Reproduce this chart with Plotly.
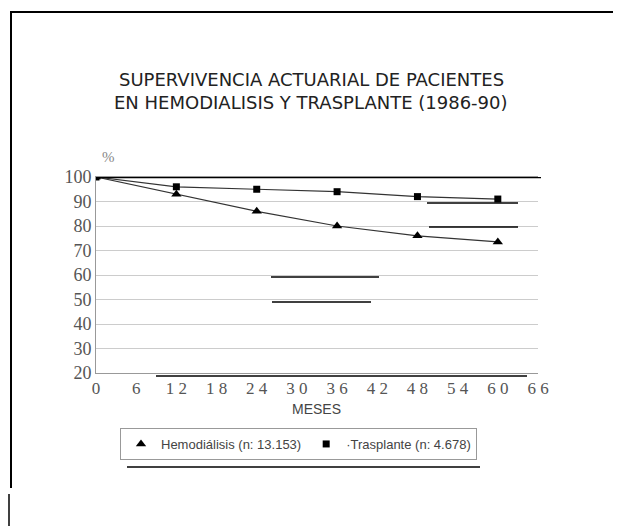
import plotly.graph_objects as go

# ---- data ----
meses = [0, 12, 24, 36, 48, 60]
hemodialisis = [100, 93, 86, 80, 76, 73.5]
trasplante = [100, 96, 95, 94, 92, 91]
x_tickvals = [0, 6, 12, 18, 24, 30, 36, 42, 48, 54, 60, 66]
x_ticktext = ["0", "6", "1 2", "1 8", "2 4", "3 0", "3 6", "4 2", "4 8", "5 4", "6 0", "6 6"]
y_tickvals = [20, 30, 40, 50, 60, 70, 80, 90, 100]
series_names = ["Hemodiálisis (n: 13.153)", "·Trasplante (n: 4.678)"]

O = 8  # page body margin offset
W, H = 621 - O, 526 - O
L, R, T, B = 96 - O, 538 - O, 177 - O, 373 - O


def px(x):
    return (x - O - L) / (R - L)


def py(y):
    return (B - (y - O)) / (B - T)


fig = go.Figure()

# lines
fig.add_trace(go.Scatter(x=meses, y=hemodialisis, mode="lines",
                         line=dict(color="#333", width=1.2), showlegend=False, hoverinfo="skip"))
fig.add_trace(go.Scatter(x=meses, y=trasplante, mode="lines",
                         line=dict(color="#333", width=1.2), showlegend=False, hoverinfo="skip"))
# markers (legend entries)
fig.add_trace(go.Scatter(x=meses, y=hemodialisis, mode="markers", name=series_names[0],
                         marker=dict(symbol="triangle-up", size=9, color="black")))
fig.add_trace(go.Scatter(x=meses, y=trasplante, mode="markers", name=series_names[1],
                         marker=dict(symbol="square", size=7, color="black")))

shapes = []
# thick line at 100
shapes.append(dict(type="line", xref="paper", yref="y", x0=0, x1=px(541), y0=100, y1=100,
                   line=dict(color="black", width=2.5)))
# page frame
shapes.append(dict(type="line", xref="paper", yref="paper", x0=px(10), x1=px(621), y0=py(12), y1=py(12),
                   line=dict(color="black", width=2)))
shapes.append(dict(type="line", xref="paper", yref="paper", x0=px(11), x1=px(11), y0=py(12), y1=py(488),
                   line=dict(color="black", width=2)))
shapes.append(dict(type="line", xref="paper", yref="paper", x0=px(9), x1=px(9), y0=py(494), y1=py(526),
                   line=dict(color="black", width=1.5)))
# scan artifact lines
for (x0, x1, yy) in [(427, 518, 203), (429, 518, 227), (271, 379, 277), (272, 371, 302),
                     (156, 527, 376), (191, 343, 433), (127, 480, 467)]:
    shapes.append(dict(type="line", xref="paper", yref="paper", x0=px(x0), x1=px(x1), y0=py(yy), y1=py(yy),
                       line=dict(color="black", width=1.3)))

annotations = [
    dict(text="SUPERVIVENCIA ACTUARIAL DE PACIENTES", xref="paper", yref="paper",
         x=px(311), y=py(80), xanchor="center", yanchor="middle", showarrow=False,
         font=dict(family="DejaVu Sans", size=18, color="#222")),
    dict(text="EN HEMODIALISIS Y TRASPLANTE (1986-90)", xref="paper", yref="paper",
         x=px(311), y=py(103), xanchor="center", yanchor="middle", showarrow=False,
         font=dict(family="DejaVu Sans", size=18, color="#222")),
    dict(text="%", xref="paper", yref="paper", x=px(108), y=py(157), xanchor="center", yanchor="middle",
         showarrow=False, font=dict(family="Liberation Serif", size=15, color="#888")),
    dict(text="MESES", xref="paper", yref="paper", x=px(316), y=py(409), xanchor="center", yanchor="middle",
         showarrow=False, font=dict(family="Liberation Sans", size=14, color="#444")),
]

fig.update_layout(
    width=W, height=H,
    margin=dict(l=L, r=W - R, t=T, b=H - B),
    paper_bgcolor="white", plot_bgcolor="white",
    shapes=shapes, annotations=annotations,
    showlegend=True,
    legend=dict(orientation="h", x=px(120), y=py(428), xanchor="left", yanchor="top",
                bordercolor="#999", borderwidth=1, bgcolor="white",
                font=dict(family="Liberation Sans", size=13, color="#444"),
                itemwidth=30, tracegroupgap=0),
    xaxis=dict(range=[0, 66], tickvals=x_tickvals, ticktext=x_ticktext,
               showgrid=False, zeroline=False, showline=True, linecolor="#999", linewidth=1,
               mirror=True, ticks="", ticklen=0,
               tickfont=dict(family="Liberation Serif", size=17, color="#555")),
    yaxis=dict(range=[20, 100], tickvals=y_tickvals, showgrid=True, gridcolor="#ccc", gridwidth=1,
               zeroline=False, showline=True, linecolor="#999", linewidth=1, ticks="",
               tickfont=dict(family="Liberation Serif", size=18, color="#555")),
)

fig.write_html("out.html")
